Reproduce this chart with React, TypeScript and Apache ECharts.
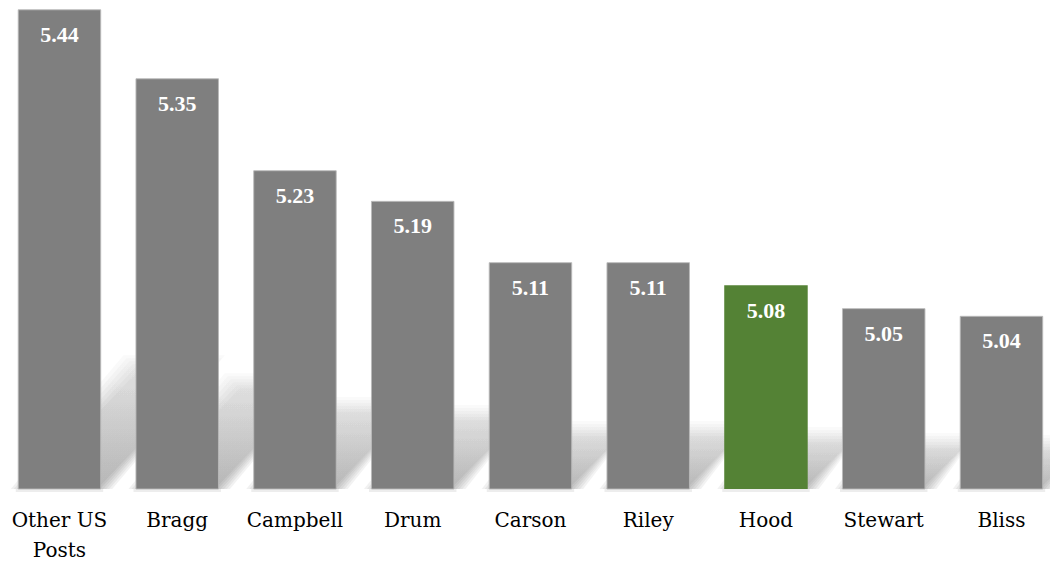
import React, { useEffect, useRef } from "react";
import * as echarts from "echarts";

const categories = ["Other US\nPosts", "Bragg", "Campbell", "Drum", "Carson", "Riley", "Hood", "Stewart", "Bliss"];
const values = [5.44, 5.35, 5.23, 5.19, 5.11, 5.11, 5.08, 5.05, 5.04];
const highlightIndex = 6;

const Y_MIN = 4.814;
const Y_MAX = 5.44;
const GRAY = "#7f7f7f";
const GREEN = "#548235";
const SERIF_REGULAR = "DejaVu Serif";
const SERIF_BOLD = "Times New Roman";

export default function App() {
  const ref = useRef<HTMLDivElement>(null);

  useEffect(() => {
    if (!ref.current) return;
    const chart = echarts.init(ref.current, null, { renderer: "svg" });

    const barData = values.map((v, i) => ({
      value: v,
      itemStyle:
        i === highlightIndex
          ? { color: GREEN }
          : { color: GRAY, borderColor: "rgba(185,185,185,0.9)", borderWidth: 1 },
    }));

    const shadowData = values.map((v, i) => [i, v]);

    chart.setOption({
      animation: false,
      backgroundColor: "#ffffff",
      textStyle: { fontFamily: SERIF_REGULAR },
      grid: {
        left: 0.6,
        top: 9.3,
        width: 1059.75,
        bottom: 73,
        containLabel: false,
        outerBoundsMode: "none",
      },
      xAxis: {
        type: "category",
        data: categories,
        axisLine: { show: false },
        axisTick: { show: false },
        axisLabel: {
          interval: 0,
          margin: 16,
          color: "#000",
          fontFamily: SERIF_REGULAR,
          fontSize: 20,
          lineHeight: 30,
        },
      },
      yAxis: {
        type: "value",
        min: Y_MIN,
        max: Y_MAX,
        show: false,
        splitLine: { show: false },
      },
      series: [
        {
          type: "custom",
          z: 1,
          silent: true,
          clip: false,
          data: shadowData,
          renderItem: (params: any, api: any) => {
            const idx = api.value(0);
            const v = api.value(1);
            const base = api.coord([idx, Y_MIN]);
            const top = api.coord([idx, v]);
            const w = api.size([1, 0])[0] * 0.709;
            const h = base[1] - top[1];
            const dy = h * 0.26;
            const dx = dy * 0.92;
            const x0 = base[0] - w / 2;
            const x1 = base[0] + w / 2;
            const yb = base[1];
            const layers: any[] = [];
            const steps = [-6, -3, 0, 3, 6, 9];
            steps.forEach((e) => {
              layers.push({
                type: "polygon",
                shape: {
                  points: [
                    [x0 + 2 - e, yb],
                    [x1 + 2 + e, yb],
                    [x1 + dx + e, yb - dy - e],
                    [x0 + dx - e, yb - dy - e],
                  ],
                },
                style: {
                  fill: new echarts.graphic.LinearGradient(0, 1, 0, 0, [
                    { offset: 0, color: "rgba(0,0,0,0.055)" },
                    { offset: 1, color: "rgba(0,0,0,0.02)" },
                  ]),
                },
              });
            });
            layers.push({
              type: "rect",
              shape: { x: x0 - 2, y: yb, width: w + 4, height: 3 },
              style: { fill: "rgba(0,0,0,0.07)" },
            });
            return { type: "group", children: layers };
          },
        },
        {
          type: "bar",
          z: 2,
          barWidth: "70.9%",
          data: barData,
          label: {
            show: true,
            position: "insideTop",
            distance: 14,
            color: "#ffffff",
            fontFamily: SERIF_BOLD,
            fontWeight: "bold",
            fontSize: 22,
            formatter: (p: any) => Number(p.value).toFixed(2),
          },
        },
      ],
    });

    return () => chart.dispose();
  }, []);

  return (
    <div style={{ position: "absolute", left: 0, top: 0, width: 1050, height: 562, overflow: "hidden" }}>
      <div ref={ref} style={{ width: 1070, height: 562 }} />
    </div>
  );
}
